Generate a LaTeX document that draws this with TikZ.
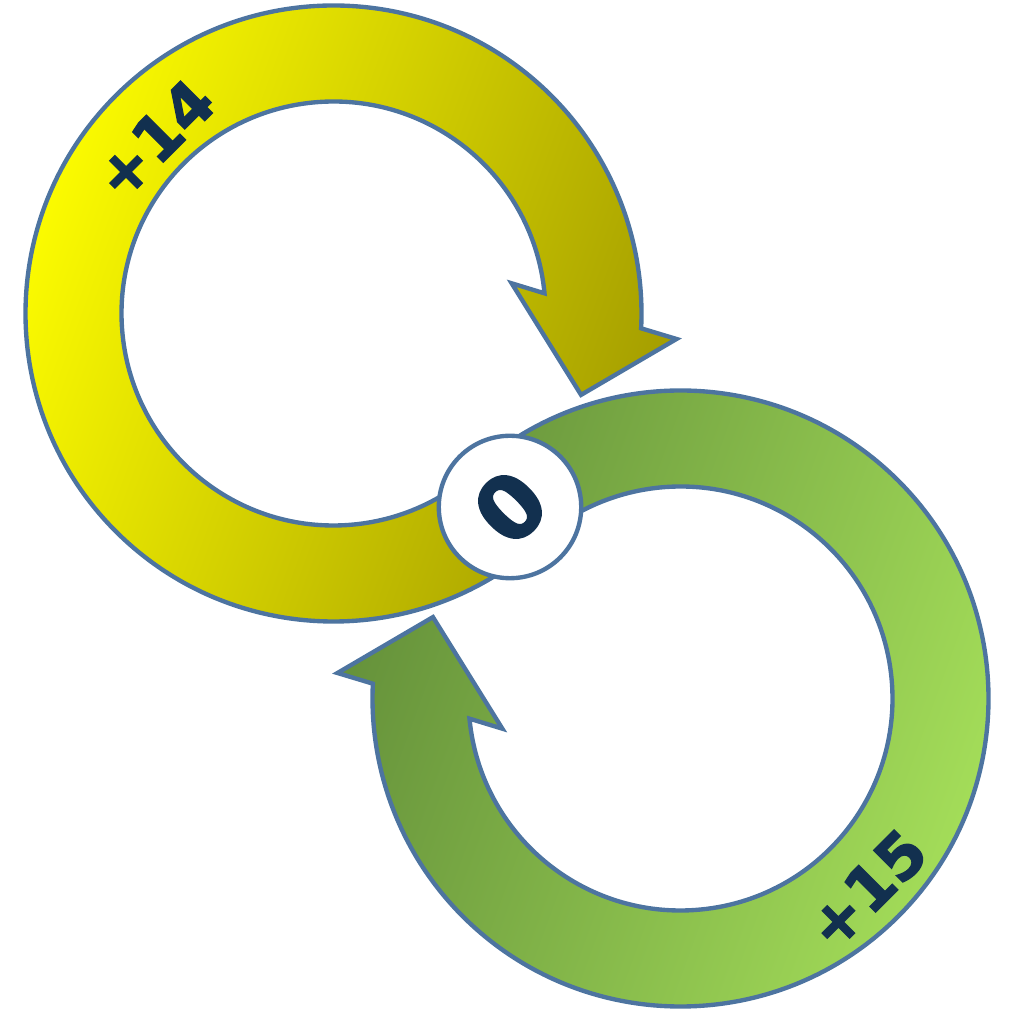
\documentclass[tikz,border=0pt]{standalone}
\usepackage{fontspec}
\setmainfont{DejaVu Sans}
\newfontfamily\countfont[FakeBold=2]{DejaVu Sans Bold}
\usetikzlibrary{calc}

\definecolor{ringline}{HTML}{4D74A0}
\definecolor{numtext}{HTML}{12304F}
\definecolor{yellowA}{HTML}{FFFF00}
\definecolor{yellowB}{HTML}{A39C00}
\definecolor{greenA}{HTML}{64903A}
\definecolor{greenB}{HTML}{A6E05A}

\begin{document}
\begin{tikzpicture}[x=0.025cm, y=0.025cm,
    ring/.style={draw=ringline, line width=3.1pt, line join=miter},
    count/.style={text=numtext, font=\countfont\fontsize{44}{44}\selectfont, rotate=45, inner sep=0pt},
  ]
  \useasboundingbox (0,0) rectangle (1012,1013);
  \coordinate (cy) at (333.5,699.5);
  \coordinate (cg) at (680.5,314.5);

  % yellow loop, clockwise into its head
  \begin{scope}[shift={(cy)}]
    \path[ring, left color=yellowA, right color=yellowB, shading angle=70]
      (-45:308) arc[start angle=-45, end angle=-362.76, radius=308]
      -- (-4.25:344) -- (-18.2:260.6) -- (9.62:180.7) -- (5.46:212)
      arc[start angle=-354.54, end angle=-45, radius=212] -- cycle;
    \node[count] (plus14) at (135.8:250) {+14};
  \end{scope}

  % green loop, the same turned half round
  \begin{scope}[shift={(cg)}]
    \path[ring, left color=greenA, right color=greenB, shading angle=70]
      (135:308) arc[start angle=135, end angle=-182.76, radius=308]
      -- (175.75:344) -- (161.8:260.6) -- (189.62:180.7) -- (185.46:212)
      arc[start angle=-174.54, end angle=135, radius=212] -- cycle;
    \node[count] (plus15) at (-45.7:267) {+15};
  \end{scope}

  % the hub
  \node[ring, circle, fill=white, minimum size=3.56cm, count, font=\countfont\fontsize{62}{62}\selectfont] (zero) at (510,506) {0};
\end{tikzpicture}
\end{document}
